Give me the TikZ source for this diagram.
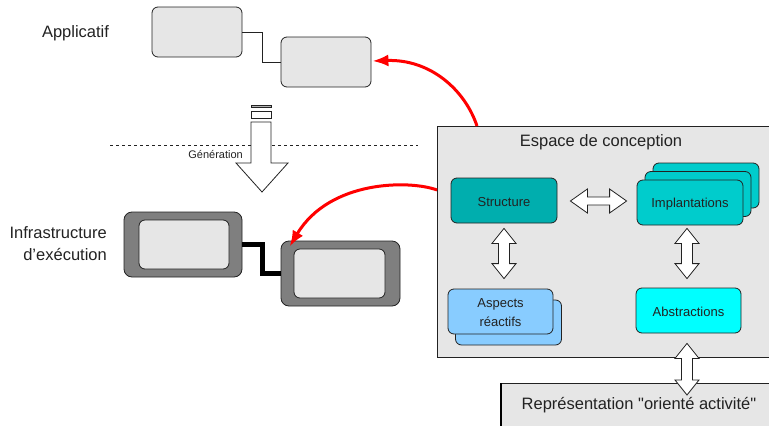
\documentclass[tikz,border=0pt]{standalone}
\usepackage{fontspec}
\setmainfont{Liberation Sans}[Ligatures=TeXOff]
\usetikzlibrary{calc,arrows.meta}

\definecolor{lightbox}{HTML}{E6E6E6}
\definecolor{darkframe}{HTML}{7F7F7F}
\definecolor{structcol}{HTML}{00AEAE}
\definecolor{implcol}{HTML}{00CCCC}
\definecolor{abstrcol}{HTML}{00FFFF}
\definecolor{aspectcol}{HTML}{88CCFF}
\definecolor{edge}{HTML}{222222}

\newcommand\fs[1]{\fontsize{#1}{#1}\selectfont}

% vertical hollow double arrow between two points (top, bottom)
\newcommand\vdarrow[2]{%
  \path[dblarrow] let \p1=(#1), \p2=(#2) in
    (\x1,\y1) -- (\x1+12pt,\y1-15pt) -- (\x1+5.5pt,\y1-15pt)
    -- (\x1+5.5pt,\y2+15pt) -- (\x1+12pt,\y2+15pt) -- (\x1,\y2)
    -- (\x1-12pt,\y2+15pt) -- (\x1-5.5pt,\y2+15pt)
    -- (\x1-5.5pt,\y1-15pt) -- (\x1-12pt,\y1-15pt) -- cycle;}
% horizontal hollow double arrow between two points (left, right)
\newcommand\hdarrow[2]{%
  \path[dblarrow] let \p1=(#1), \p2=(#2) in
    (\x1,\y1) -- (\x1+17pt,\y1+12pt) -- (\x1+17pt,\y1+4pt)
    -- (\x2-17pt,\y1+4pt) -- (\x2-17pt,\y1+12pt) -- (\x2,\y1)
    -- (\x2-17pt,\y1-12pt) -- (\x2-17pt,\y1-4pt)
    -- (\x1+17pt,\y1-4pt) -- (\x1+17pt,\y1-12pt) -- cycle;}

\tikzset{
  appbox/.style={draw=edge, fill=lightbox, rounded corners=6pt, line width=0.8pt,
    minimum width=90pt, minimum height=50pt, inner sep=0pt},
  outerbox/.style={draw=edge, fill=darkframe, rounded corners=8pt, line width=0.8pt,
    minimum width=118pt, minimum height=65pt, inner sep=0pt},
  innerbox/.style={draw=edge, fill=lightbox, rounded corners=6pt, line width=0.8pt,
    minimum width=90pt, minimum height=49pt, inner sep=0pt},
  conbox/.style={draw=edge, rounded corners=6pt, line width=0.8pt,
    minimum width=106pt, minimum height=45pt, inner sep=0pt, font=\fs{13}, align=center},
  boxtext/.style={font=\fs{13}, text=edge, inner sep=0pt, align=center},
  dblarrow/.style={draw=edge, fill=white, line width=0.8pt, line join=miter},
  redarrow/.style={draw=red, line width=3pt, -{Latex[length=16pt,width=12pt]}},
  label/.style={font=\fs{16.5}, text=edge, inner sep=0pt},
}

\begin{document}
\begin{tikzpicture}[x=1pt, y=-1pt]
\useasboundingbox (0,0) rectangle (769,426);
\clip (0,0) rectangle (769,426);

% ---- application level ----
\node[label] (applab) at (75.5,33) {Applicatif};
\node[appbox] (app1) at (197,32) {};
\node[appbox] (app2) at (326,62) {};
\draw[edge, line width=0.8pt] (app1.east) -- ++(20,0) |- (app2.west);

% ---- generation step ----
\draw[edge, dashed, dash pattern=on 3pt off 3pt, line width=0.6pt] (110,145) coordinate (sepL) -- (418,145) coordinate (sepR);
\node[font=\fs{11}, text=edge, anchor=east, inner sep=0pt] (gen) at (243,155) {Génération};
\draw[edge, fill=darkframe!60, line width=0.6pt] (251,105) rectangle (271,107);
\draw[edge, fill=white, line width=0.6pt] (251,111) rectangle (271,118);
\draw[edge, fill=white, line width=0.8pt, line join=miter]
  (251,122) -- (271,122) -- (271,163) -- (288,163) -- (262,192)
  -- (236,163) -- (251,163) -- cycle;

% ---- execution infrastructure ----
\node[label, align=right, anchor=east, font=\fontsize{16.5}{22}\selectfont] (infralab) at (107,244)
  {Infrastructure\\d’exécution};
\node[outerbox] (exe1) at (183,244.5) {};
\node[innerbox] (exe1in) at (184,244.5) {};
\node[outerbox, minimum width=119pt] (exe2) at (340.5,273.5) {};
\node[innerbox, minimum width=91pt] (exe2in) at (339.5,273.5) {};
\draw[black, line width=5pt, line join=miter] (exe1.east) -- ++(20,0) |- (exe2.west);

% ---- design space ----
\node[draw=edge, fill=lightbox, line width=0.8pt, anchor=north west,
  minimum width=360pt, minimum height=231pt, inner sep=0pt] (esp) at (437,126) {};
\node[label] (esptitle) at (601,142) {Espace de conception};

\node[conbox, fill=structcol] (struct) at (504,200.5) {};
\node[boxtext] (structlab) at ($(struct.center)+(0,1.5)$) {Structure};

\node[conbox, fill=implcol] (impl3) at (706,185.5) {};
\node[conbox, fill=implcol] (impl2) at (698,194) {};
\node[conbox, fill=implcol] (impl) at (690,202.5) {};
\node[boxtext] (impllab) at ($(impl.center)+(0,1.5)$) {Implantations};

\node[conbox, fill=aspectcol] (asp2) at (508.5,322.5) {};
\node[conbox, fill=aspectcol, minimum width=105pt] (asp) at (500.5,311.5) {};
\node[boxtext, font=\fontsize{13}{19}\selectfont] (asplab) at ($(asp.center)+(0,1.5)$) {Aspects\\réactifs};

\node[conbox, fill=abstrcol, minimum width=105pt] (abstr) at (688.5,310.5) {};
\node[boxtext] (abstrlab) at ($(abstr.center)+(0,1.5)$) {Abstractions};

% ---- activity-oriented representation ----
\node[draw=edge, fill=lightbox, line width=1.2pt, anchor=north west,
  minimum width=300pt, minimum height=60pt, inner sep=0pt] (rep) at (501,383) {};
\draw[black, line width=2.5pt] (rep.north west) -- (rep.south west);
\node[label] (replab) at (639,405) {Représentation "orienté activité"};

% ---- hollow double arrows ----
\hdarrow{$(struct.east)+(13,0.5)$}{$(impl.west)+(-10,0)$}
\vdarrow{$(struct.south)+(0,5)$}{$(asp.north)+(0,-10)$}
\vdarrow{$(impl.south)+(-3,3)$}{$(abstr.north)+(-1.5,-9)$}
\vdarrow{$(abstr.south)+(-1.5,10)$}{$(rep.north west)+(186,12)$}

% ---- red mapping arrows ----
\draw[redarrow] ($(esp.north west)+(40,0)$) .. controls +(-12,-36) and +(58,-2) .. ($(app2.east)+(1,-1)$);
\draw[redarrow] ($(esp.north west)+(0,64)$) .. controls +(-27,-10) and +(40,-67) .. ($(exe2.north west)+(9,6)$);
\end{tikzpicture}
\end{document}
